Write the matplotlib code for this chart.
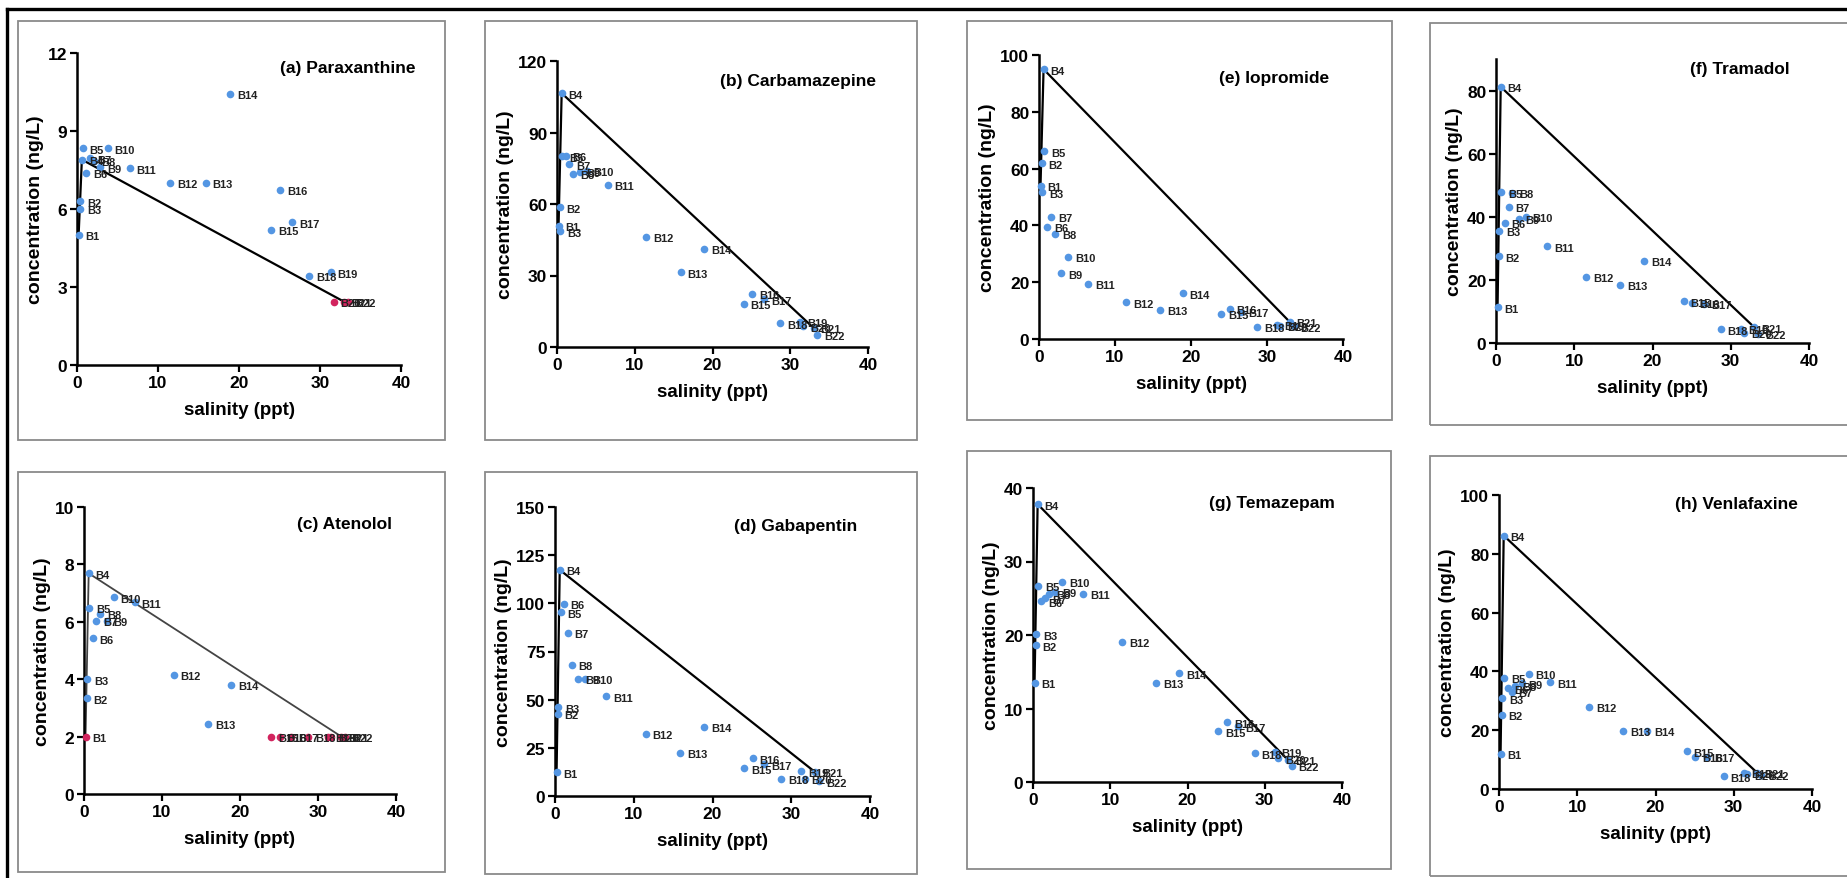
import numpy as np
import matplotlib
matplotlib.use('Agg')
import matplotlib.pyplot as plt
from matplotlib.patches import Rectangle
from matplotlib.lines import Line2D

plt.rcParams['font.family'] = ['Liberation Sans', 'DejaVu Sans']

sites = ['B' + str(i) for i in range(1, 23)]
salinity = [0.2, 0.35, 0.4, 0.6, 0.7, 1.1, 1.6, 2.1, 2.9, 3.8, 6.5,
            11.5, 15.9, 18.9, 24.0, 25.1, 26.6, 28.7, 31.3, 31.7, 33.0, 33.5]

paraxanthine = [5.0, 6.3, 6.0, 7.9, 8.33, 7.4, 7.95, 7.85, 7.6, 8.33, 7.56,
                7.01, 7.01, 10.42, 5.19, 6.73, 5.49, 3.43, 3.56, 2.43, 2.43, 2.43]
carbamazepine = [50.9, 58.6, 48.5, 106.5, 80.0, 80.3, 76.6, 72.6, 73.5, 74.0, 68.0,
                 46.3, 31.3, 41.1, 18.0, 22.2, 20.0, 9.9, 10.5, 8.7, 8.0, 5.0]
atenolol = [2.0, 3.34, 4.0, 7.69, 6.48, 5.42, 6.04, 6.27, 6.04, 6.85, 6.68,
            4.15, 2.44, 3.80, 2.0, 2.0, 2.0, 2.0, 2.0, 2.0, 2.0, 2.0]
gabapentin = [12.3, 42.6, 46.0, 117.4, 95.3, 99.6, 84.6, 68.1, 60.7, 60.7, 51.7,
              32.2, 22.3, 36.0, 14.4, 19.6, 16.5, 8.8, 12.8, 8.8, 12.5, 7.7]
iopromide = [54.0, 61.9, 51.6, 95.0, 66.1, 39.5, 43.1, 37.0, 23.1, 29.0, 19.4,
             12.9, 10.3, 16.1, 8.8, 10.6, 9.5, 4.3, 5.0, 4.7, 6.0, 4.5]
tramadol = [11.3, 27.5, 35.5, 81.2, 47.8, 38.0, 43.1, 47.5, 39.4, 40.0, 30.7,
            21.0, 18.4, 26.1, 13.2, 12.7, 12.5, 4.4, 4.5, 3.3, 5.0, 2.9]
temazepam = [13.5, 18.6, 20.1, 37.8, 26.7, 24.6, 25.0, 25.6, 25.9, 27.2, 25.6,
             19.1, 13.5, 14.8, 6.9, 8.1, 7.6, 3.9, 4.1, 3.2, 3.0, 2.2]
venlafaxine = [11.9, 25.3, 30.8, 86.2, 37.8, 34.2, 33.0, 35.0, 36.0, 39.1, 36.3,
               28.0, 19.8, 19.8, 12.8, 11.0, 11.0, 4.3, 5.5, 5.0, 5.5, 4.8]

# samples below detection limit, drawn in red
paraxanthine_bdl = ['B20', 'B21', 'B22']
atenolol_bdl = ['B1', 'B15', 'B16', 'B17', 'B18', 'B19', 'B20', 'B21', 'B22']

# mixing line: riverine end (B1) -> peak (B4) -> seawater end (B21)
mix_sites = ['B1', 'B4', 'B21']

W, H = 1847, 879
fig = plt.figure(figsize=(W / 100, H / 100), dpi=100)
fig.patch.set_facecolor('white')

BLUE = '#5496e3'
RED = '#d2245e'


def px_rect(l, r, t, b):
    return [l / W, 1 - b / H, (r - l) / W, (b - t) / H]


def panel(box, axbox, conc, title, ylim, yticks, tpos, bdl=(), line_color='black', line_w=1.6):
    bl, br, bt, bb = box
    fig.add_artist(Rectangle((bl / W, 1 - bb / H), (br - bl) / W, (bb - bt) / H,
                             transform=fig.transFigure, fill=False,
                             ec='#8a8a8a', lw=1.3))
    ax = fig.add_axes(px_rect(*axbox))
    ax.set_xlim(0, 40)
    ax.set_ylim(*ylim)
    ax.set_xticks([0, 10, 20, 30, 40])
    ax.set_yticks(yticks)
    for s in ['top', 'right']:
        ax.spines[s].set_visible(False)
    for s in ['left', 'bottom']:
        ax.spines[s].set_linewidth(1.8)
    ax.tick_params(direction='out', length=5, width=1.6, labelsize=12.5, pad=2)
    for lab in ax.get_xticklabels() + ax.get_yticklabels():
        lab.set_fontweight('bold')
    ax.set_xlabel('salinity (ppt)', fontsize=13.5, fontweight='bold', labelpad=8)
    ax.set_ylabel('concentration (ng/L)', fontsize=14, fontweight='bold', labelpad=3)
    ax.patch.set_alpha(0)

    idx = [sites.index(s) for s in mix_sites]
    ax.plot([salinity[i] for i in idx], [conc[i] for i in idx],
            color=line_color, lw=line_w, zorder=2, clip_on=False)

    for s, x, y in zip(sites, salinity, conc):
        c = RED if s in bdl else BLUE
        ax.plot(x, y, 'o', ms=5.5, color=c, mec='none', zorder=3, clip_on=False)
        ax.annotate(s, (x, y), xytext=(5, -1), textcoords='offset points',
                    fontsize=8, color='#222222', va='center', ha='left',
                    fontweight='bold', zorder=4)

    ax.text(tpos[0], tpos[1], title, transform=ax.transAxes, ha='right',
            va='center', fontsize=12.5, fontweight='bold')
    return ax


panel((18, 445, 22, 441), (77, 401, 54, 366), paraxanthine, '(a) Paraxanthine',
      (0, 12), [0, 3, 6, 9, 12], (1.046, 0.955), bdl=paraxanthine_bdl)
panel((485, 917, 22, 441), (557, 868, 62, 348), carbamazepine, '(b) Carbamazepine',
      (0, 120), [0, 30, 60, 90, 120], (1.025, 0.931))
panel((18, 445, 473, 873), (84, 396, 508, 795), atenolol, '(c) Atenolol',
      (0, 10), [0, 2, 4, 6, 8, 10], (0.986, 0.941), bdl=atenolol_bdl,
      line_color='#444444', line_w=1.3)
panel((485, 917, 473, 875), (555, 870, 508, 797), gabapentin, '(d) Gabapentin',
      (0, 150), [0, 25, 50, 75, 100, 125, 150], (0.961, 0.935))
panel((967, 1392, 22, 421), (1039, 1343, 56, 340), iopromide, '(e) Iopromide',
      (0, 100), [0, 20, 40, 60, 80, 100], (0.955, 0.921))
panel((1430, 1852, 24, 426), (1496, 1809, 60, 344), tramadol, '(f) Tramadol',
      (0, 90), [0, 20, 40, 60, 80], (0.939, 0.966))
panel((967, 1391, 452, 870), (1033, 1342, 489, 783), temazepam, '(g) Temazepam',
      (0, 40), [0, 10, 20, 30, 40], (0.977, 0.951))
panel((1430, 1852, 457, 877), (1499, 1812, 496, 790), venlafaxine, '(h) Venlafaxine',
      (0, 100), [0, 20, 40, 60, 80, 100], (0.956, 0.972))

# outer frame: top and left edges only
fig.add_artist(Line2D([7 / W, 1.0], [1 - 10 / H, 1 - 10 / H], transform=fig.transFigure,
                      color='black', lw=2.4))
fig.add_artist(Line2D([7 / W, 7 / W], [0, 1 - 10 / H], transform=fig.transFigure,
                      color='black', lw=2.4))

fig.savefig('out.png', dpi=100)
